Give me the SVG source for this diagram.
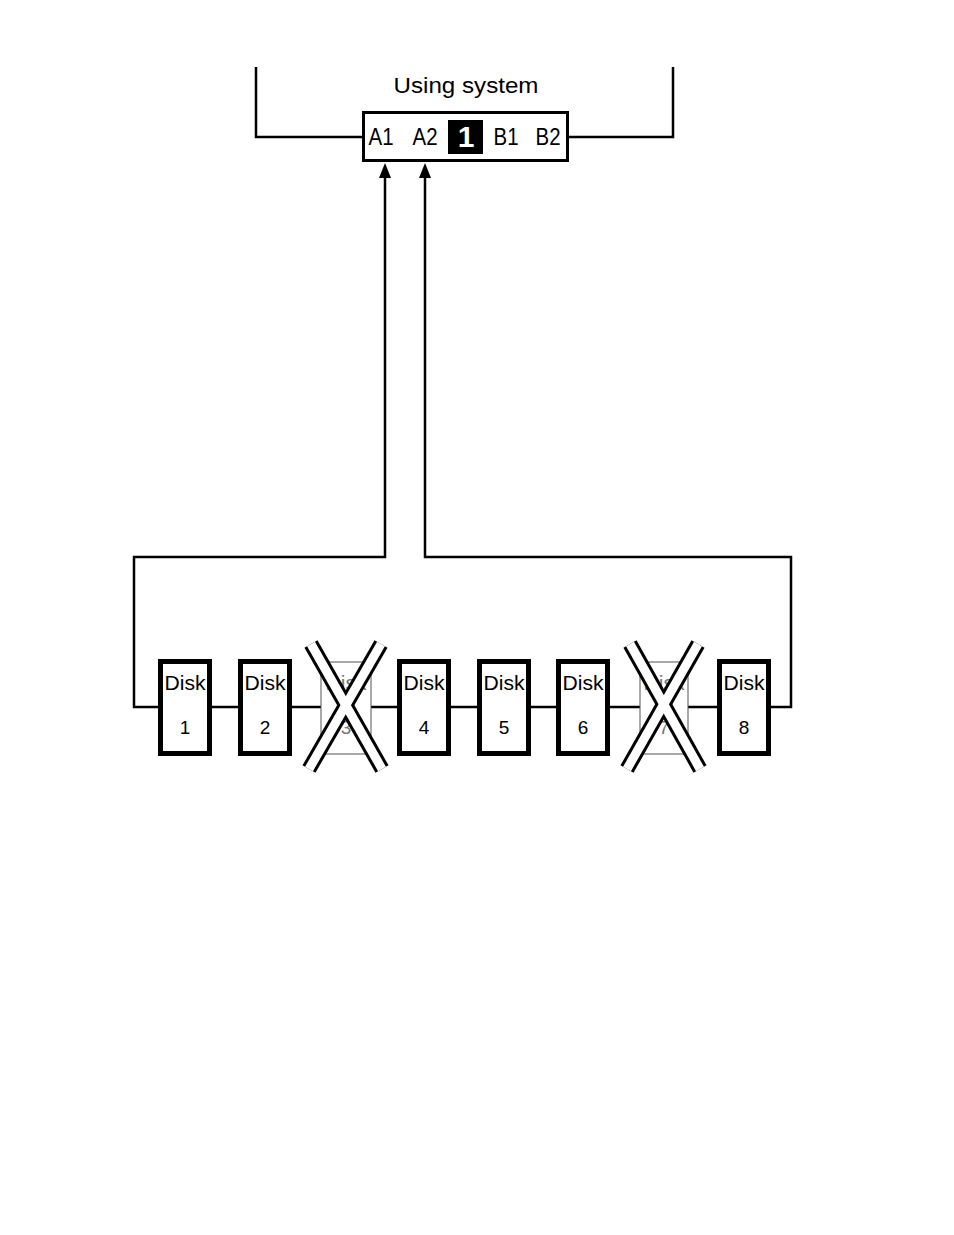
<svg xmlns="http://www.w3.org/2000/svg" width="954" height="1235" viewBox="0 0 954 1235">
<style>
.t{font-family:"Liberation Sans",Arial,sans-serif;fill:#000}
.ln{fill:none;stroke:#000;stroke-width:2.5;stroke-linejoin:miter}
.disk{fill:#fff;stroke:#000;stroke-width:5}
.fdisk{fill:#fff;stroke:#555;stroke-width:1}
.ft{fill:#777}
.xo{stroke:#000;stroke-width:15;stroke-linecap:butt}
.xi{stroke:#fff;stroke-width:9;stroke-linecap:butt}
.ah{fill:#000}
</style>
<rect width="954" height="1235" fill="#fff"/>
<g id="system">
<path class="ln" d="M256,67 V137 H363 M568,137 H673 V67"/>
<text class="t" x="466" y="93" font-size="22" text-anchor="middle" textLength="145" lengthAdjust="spacingAndGlyphs">Using system</text>
<rect x="363.5" y="112.5" width="204" height="48" fill="#fff" stroke="#000" stroke-width="3"/>
<text class="t" x="381" y="145" font-size="23" text-anchor="middle" textLength="25" lengthAdjust="spacingAndGlyphs">A1</text>
<text class="t" x="425" y="145" font-size="23" text-anchor="middle" textLength="25" lengthAdjust="spacingAndGlyphs">A2</text>
<rect x="448" y="120" width="35" height="34" fill="#000"/>
<text class="t" x="466" y="147" font-size="30" font-weight="bold" text-anchor="middle" style="fill:#fff">1</text>
<text class="t" x="506" y="145" font-size="23" text-anchor="middle" textLength="25" lengthAdjust="spacingAndGlyphs">B1</text>
<text class="t" x="548" y="145" font-size="23" text-anchor="middle" textLength="25" lengthAdjust="spacingAndGlyphs">B2</text>
</g>
<g id="connectors">
<path class="ln" d="M385,176 V557 H134 V707 H791 V557 H425 V176"/>
<polygon class="ah" points="385,163 391,178 379,178"/>
<polygon class="ah" points="425,163 431,178 419,178"/>
</g>
<g id="disk1"><rect class="disk" x="160.5" y="661.5" width="49" height="92"/><text class="t" x="185" y="690" font-size="20" text-anchor="middle" textLength="41" lengthAdjust="spacingAndGlyphs">Disk</text><text class="t" x="185" y="734" font-size="19" text-anchor="middle">1</text></g>
<g id="disk2"><rect class="disk" x="240.5" y="661.5" width="49" height="92"/><text class="t" x="265" y="690" font-size="20" text-anchor="middle" textLength="41" lengthAdjust="spacingAndGlyphs">Disk</text><text class="t" x="265" y="734" font-size="19" text-anchor="middle">2</text></g>
<g id="disk3"><rect class="fdisk" x="321" y="662" width="50" height="92"/><text class="t ft" x="346" y="690" font-size="20" text-anchor="middle" textLength="41" lengthAdjust="spacingAndGlyphs">Disk</text><text class="t ft" x="346" y="734" font-size="19" text-anchor="middle">3</text>
<line class="xo" x1="311" y1="644" x2="382" y2="769"/><line class="xo" x1="381" y1="644" x2="309" y2="769"/>
<line class="xi" x1="311" y1="644" x2="382" y2="769"/><line class="xi" x1="381" y1="644" x2="309" y2="769"/></g>
<g id="disk4"><rect class="disk" x="399.5" y="661.5" width="49" height="92"/><text class="t" x="424" y="690" font-size="20" text-anchor="middle" textLength="41" lengthAdjust="spacingAndGlyphs">Disk</text><text class="t" x="424" y="734" font-size="19" text-anchor="middle">4</text></g>
<g id="disk5"><rect class="disk" x="479.5" y="661.5" width="49" height="92"/><text class="t" x="504" y="690" font-size="20" text-anchor="middle" textLength="41" lengthAdjust="spacingAndGlyphs">Disk</text><text class="t" x="504" y="734" font-size="19" text-anchor="middle">5</text></g>
<g id="disk6"><rect class="disk" x="558.5" y="661.5" width="49" height="92"/><text class="t" x="583" y="690" font-size="20" text-anchor="middle" textLength="41" lengthAdjust="spacingAndGlyphs">Disk</text><text class="t" x="583" y="734" font-size="19" text-anchor="middle">6</text></g>
<g id="disk7"><rect class="fdisk" x="640" y="662" width="48" height="92"/><text class="t ft" x="664" y="690" font-size="20" text-anchor="middle" textLength="41" lengthAdjust="spacingAndGlyphs">Disk</text><text class="t ft" x="664" y="734" font-size="19" text-anchor="middle">7</text>
<line class="xo" x1="630" y1="644" x2="700" y2="769"/><line class="xo" x1="698" y1="644" x2="627" y2="769"/>
<line class="xi" x1="630" y1="644" x2="700" y2="769"/><line class="xi" x1="698" y1="644" x2="627" y2="769"/></g>
<g id="disk8"><rect class="disk" x="719.5" y="661.5" width="49" height="92"/><text class="t" x="744" y="690" font-size="20" text-anchor="middle" textLength="41" lengthAdjust="spacingAndGlyphs">Disk</text><text class="t" x="744" y="734" font-size="19" text-anchor="middle">8</text></g>
</svg>
